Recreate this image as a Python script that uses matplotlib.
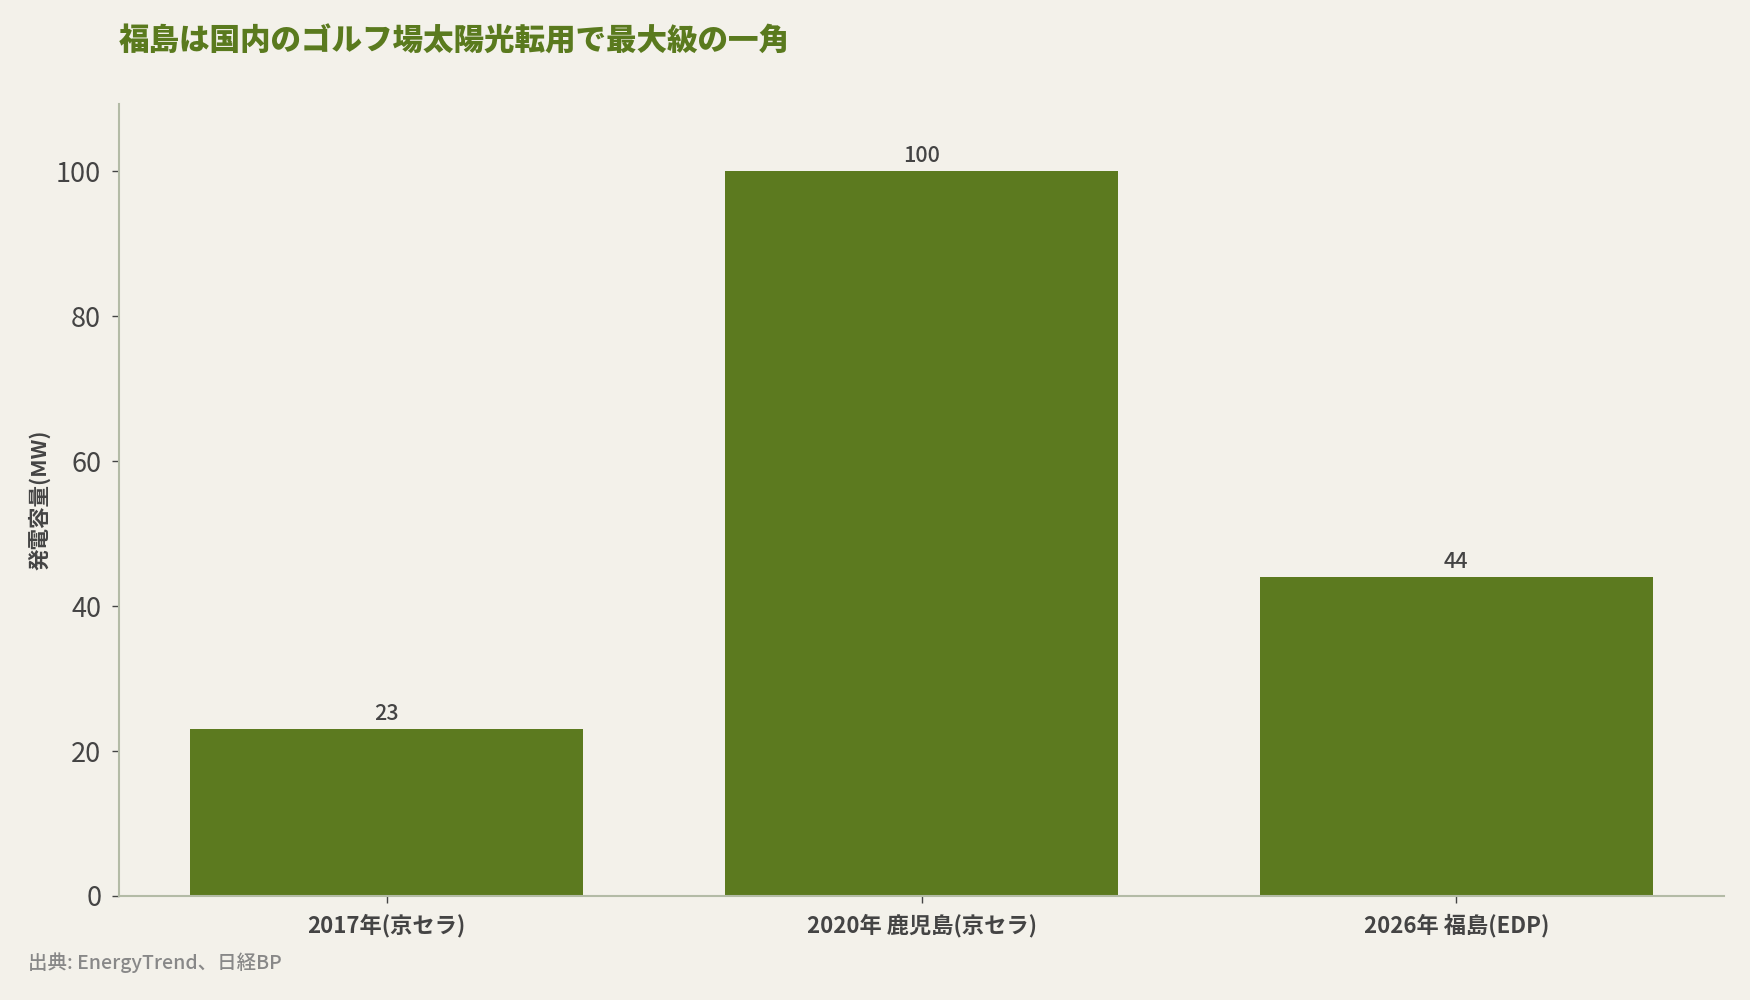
import matplotlib
matplotlib.use("Agg")
import matplotlib.pyplot as plt

categories = ["2017年(京セラ)", "2020年 鹿児島(京セラ)", "2026年 福島(EDP)"]
values = [23, 100, 44]
yticks = [0, 20, 40, 60, 80, 100]
title = "福島は国内のゴルフ場太陽光転用で最大級の一角"
ylabel = "発電容量(MW)"
source = "出典: EnergyTrend、日経BP"

BG = "#f3f1ea"
GREEN = "#5c7a1f"
TITLE_C = "#5a7a1e"
TXT = "#444444"
SPINE = "#b3bba6"

plt.rcParams['font.family'] = ['Noto Sans CJK JP', 'DejaVu Sans']

fig = plt.figure(figsize=(17.5, 10), dpi=100, facecolor=BG)
ax = fig.add_axes([0.0682, 0.104, 0.9168, 0.792], facecolor=BG)

x = list(range(len(categories)))
bars = ax.bar(x, values, width=0.735, color=GREEN, zorder=2)
for xi, v in zip(x, values):
    ax.annotate(f"{v}", (xi, v), xytext=(0, 3), textcoords="offset points",
                ha="center", va="bottom", fontsize=15.5, color=TXT, fontweight="medium")

ax.set_xlim(-0.5, 2.5)
ax.set_ylim(0, 109.3)
ax.set_xticks(x)
ax.set_xticklabels(categories, fontsize=16, color=TXT, fontweight="semibold")
ax.set_yticks(yticks)
ax.set_yticklabels([str(t) for t in yticks], fontsize=19.5, color=TXT)
ax.tick_params(axis="both", length=5, width=1, color=TXT)
ax.tick_params(axis="x", pad=8)
ax.tick_params(axis="y", pad=8)

for s in ["top", "right"]:
    ax.spines[s].set_visible(False)
for s in ["left", "bottom"]:
    ax.spines[s].set_color(SPINE)
    ax.spines[s].set_linewidth(1.5)

ax.set_ylabel(ylabel, fontsize=15.5, color=TXT, fontweight="bold")
ax.yaxis.set_label_coords(-0.043, 0.5)

fig.text(0.068, 0.959, title, fontsize=22, fontweight="heavy", color=TITLE_C,
         ha="left", va="center")
fig.text(0.016, 0.037, source, fontsize=14, color="#888888", ha="left", va="center",
         fontweight="medium")

fig.savefig("out.png", dpi=100, facecolor=BG)
